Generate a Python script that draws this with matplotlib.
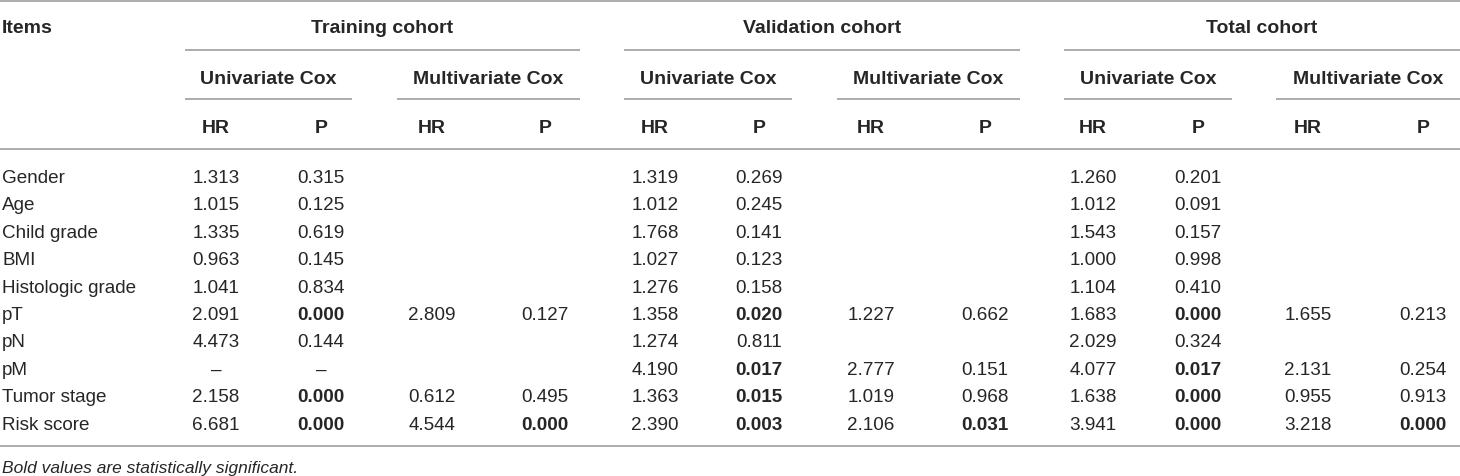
import matplotlib
matplotlib.use("Agg")
import matplotlib.pyplot as plt

plt.rcParams['font.family'] = ['Liberation Sans', 'DejaVu Sans']

items = ["Gender", "Age", "Child grade", "BMI", "Histologic grade", "pT", "pN", "pM",
         "Tumor stage", "Risk score"]

train_uni_hr = ["1.313", "1.015", "1.335", "0.963", "1.041", "2.091", "4.473", "–", "2.158", "6.681"]
train_uni_p = ["0.315", "0.125", "0.619", "0.145", "0.834", "0.000", "0.144", "–", "0.000", "0.000"]
train_multi_hr = ["", "", "", "", "", "2.809", "", "", "0.612", "4.544"]
train_multi_p = ["", "", "", "", "", "0.127", "", "", "0.495", "0.000"]

val_uni_hr = ["1.319", "1.012", "1.768", "1.027", "1.276", "1.358", "1.274", "4.190", "1.363", "2.390"]
val_uni_p = ["0.269", "0.245", "0.141", "0.123", "0.158", "0.020", "0.811", "0.017", "0.015", "0.003"]
val_multi_hr = ["", "", "", "", "", "1.227", "", "2.777", "1.019", "2.106"]
val_multi_p = ["", "", "", "", "", "0.662", "", "0.151", "0.968", "0.031"]

tot_uni_hr = ["1.260", "1.012", "1.543", "1.000", "1.104", "1.683", "2.029", "4.077", "1.638", "3.941"]
tot_uni_p = ["0.201", "0.091", "0.157", "0.998", "0.410", "0.000", "0.324", "0.017", "0.000", "0.000"]
tot_multi_hr = ["", "", "", "", "", "1.655", "", "2.131", "0.955", "3.218"]
tot_multi_p = ["", "", "", "", "", "0.213", "", "0.254", "0.913", "0.000"]

cohorts = ["Training cohort", "Validation cohort", "Total cohort"]
models = ["Univariate Cox", "Multivariate Cox"]
stats = ["HR", "P"]
footnote = "Bold values are statistically significant."

columns = [train_uni_hr, train_uni_p, train_multi_hr, train_multi_p,
           val_uni_hr, val_uni_p, val_multi_hr, val_multi_p,
           tot_uni_hr, tot_uni_p, tot_multi_hr, tot_multi_p]

# layout in pixel coordinates
col_x = [216, 321, 432, 545, 655, 759, 871, 985, 1093, 1198, 1308, 1423]
model_spans = [(185, 352), (397, 580), (624, 792), (837, 1020), (1064, 1232), (1276, 1460)]
cohort_spans = [(185, 580), (624, 1020), (1064, 1460)]
row_y0, row_dy = 178.5, 27.4
dy = 2.5  # matplotlib centres on full bbox, nudge down to match cap centres

W, H = 1460, 477
fig = plt.figure(figsize=(W / 100, H / 100), dpi=100)
ax = fig.add_axes([0, 0, 1, 1])
ax.set_xlim(0, W)
ax.set_ylim(H, 0)
ax.axis('off')

txt = '#262626'
line_c = '#a6a6a6'
hdr_fs = 14
val_fs = 13.6

# rules
for y in (1.5, 150, 447):
    ax.hlines(y, 0, W, color=line_c, lw=1.3)
for x0, x1 in cohort_spans:
    ax.hlines(51, x0, x1, color=line_c, lw=1.3)
for x0, x1 in model_spans:
    ax.hlines(100, x0, x1, color=line_c, lw=1.3)

# headers
ax.text(2, 26 + dy, "Items", fontsize=hdr_fs, fontweight='bold', color=txt, va='center', ha='left')
for name, (x0, x1) in zip(cohorts, cohort_spans):
    ax.text((x0 + x1) / 2, 26 + dy, name, fontsize=hdr_fs, fontweight='bold', color=txt,
            va='center', ha='center')
for i, (x0, x1) in enumerate(model_spans):
    ax.text((x0 + x1) / 2, 77 + dy, models[i % 2], fontsize=hdr_fs, fontweight='bold', color=txt,
            va='center', ha='center')
for i, x in enumerate(col_x):
    ax.text(x, 126 + dy, stats[i % 2], fontsize=hdr_fs, fontweight='bold', color=txt,
            va='center', ha='center')

# body
for r, item in enumerate(items):
    y = row_y0 + r * row_dy
    ax.text(2, y, item, fontsize=val_fs, color=txt, va='center', ha='left')
    for c, col in enumerate(columns):
        v = col[r]
        if not v:
            continue
        bold = False
        if c % 2 == 1 and v != "–" and float(v) < 0.05:
            bold = True
        ax.text(col_x[c], y, v, fontsize=val_fs, color=txt, va='center', ha='center',
                fontweight='bold' if bold else 'normal')

ax.text(2, 466 + dy, footnote, fontsize=12.5, fontstyle='italic', color=txt, va='center', ha='left')

fig.savefig("out.png", dpi=100)
